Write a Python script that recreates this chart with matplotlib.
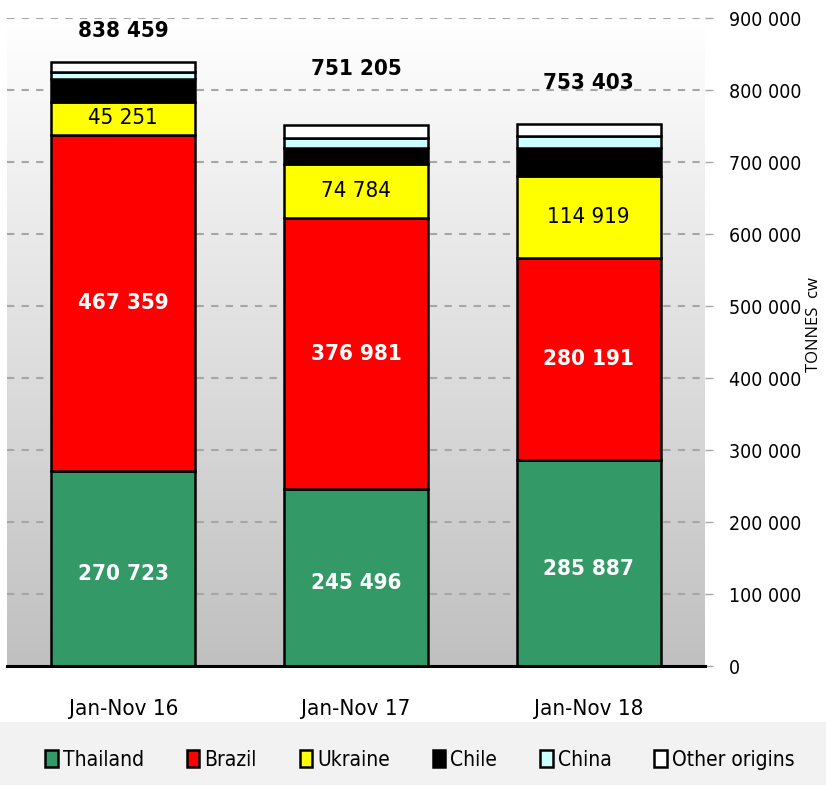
import os
import matplotlib
matplotlib.use("Agg")
import matplotlib.pyplot as plt
import numpy as np
from matplotlib import font_manager as fm
from matplotlib.patches import Rectangle, Patch
from matplotlib.colors import LinearSegmentedColormap

# ---- font selection: prefer a narrow/condensed face (Calibri-like look) ----
files = fm.findSystemFonts() + [f.fname for f in fm.fontManager.ttflist]
def find(keys):
    for k in keys:
        for f in files:
            if os.path.basename(f).lower() == k.lower():
                return f
    return None
reg_file = find(["LiberationSansNarrow-Regular.ttf", "DejaVuSansCondensed.ttf"])
bold_file = find(["LiberationSansNarrow-Bold.ttf", "DejaVuSansCondensed-Bold.ttf"])

def fp(size, bold=False):
    f = bold_file if bold else reg_file
    if f:
        return fm.FontProperties(fname=f, size=size)
    return fm.FontProperties(family="Lato", size=size, weight="bold" if bold else "normal")

categories = ["Jan-Nov 16", "Jan-Nov 17", "Jan-Nov 18"]
series_names = ["Thailand", "Brazil", "Ukraine", "Chile", "China", "Other origins"]
thailand = [270723, 245496, 285887]
brazil = [467359, 376981, 280191]
ukraine = [45251, 74784, 114919]
chile = [32000, 22000, 38500]
china = [10000, 14000, 17000]
other = [13126, 17944, 16906]
totals = [838459, 751205, 753403]
yticks = list(range(0, 900001, 100000))

colors = ["#339966", "#FF0000", "#FFFF00", "#000000", "#CCFFFF", "#FFFFFF"]
data = [thailand, brazil, ukraine, chile, china, other]

fig = plt.figure(figsize=(8.26, 7.85), dpi=100)
fig.patches.append(Rectangle((0, 0), 1, (785 - 722) / 785, transform=fig.transFigure,
                             facecolor="#F2F2F2", edgecolor="none", zorder=0))
ax = fig.add_axes([7 / 826, (785 - 666) / 785, (705 - 7) / 826, (666 - 18) / 785])
ax.set_xlim(-0.5, 2.5)
ax.set_ylim(0, 900000)

grad = np.linspace(0, 1, 256).reshape(-1, 1)
cmap = LinearSegmentedColormap.from_list("g", ["#C0C0C0", "#FFFFFF"])
ax.imshow(grad, extent=[-0.5, 2.5, 0, 900000], origin="lower", aspect="auto",
          cmap=cmap, zorder=0)

for t in yticks[1:]:
    ax.axhline(t, color="#A6A6A6", lw=1.5, ls=(0, (3.5, 3.5)), zorder=1)

x = np.arange(len(categories))
bottom = np.zeros(3)
for vals, c in zip(data, colors):
    ax.bar(x, vals, width=0.62, bottom=bottom, color=c, edgecolor="black",
           linewidth=1.8, zorder=3)
    bottom += np.array(vals)

def fmt(v):
    return f"{v:,}".replace(",", " ")

for i in range(3):
    ax.text(x[i], thailand[i] / 2 - 8000, fmt(thailand[i]), ha="center", va="center",
            color="white", fontproperties=fp(16, True), zorder=5)
    ax.text(x[i], thailand[i] + brazil[i] / 2, fmt(brazil[i]), ha="center", va="center",
            color="white", fontproperties=fp(16, True), zorder=5)
    ax.text(x[i], thailand[i] + brazil[i] + ukraine[i] / 2, fmt(ukraine[i]), ha="center",
            va="center", color="black", fontproperties=fp(16), zorder=5)

total_offsets = [44000, 78000, 57000]
for i in range(3):
    ax.text(x[i], totals[i] + total_offsets[i], fmt(totals[i]), ha="center", va="center",
            color="black", fontproperties=fp(16, True), zorder=5)

ax.yaxis.tick_right()
ax.set_yticks(yticks)
ax.set_yticklabels([fmt(t) for t in yticks])
for lab in ax.get_yticklabels():
    lab.set_fontproperties(fp(14))
ax.tick_params(axis="y", length=6, width=1, color="#A6A6A6", pad=11, right=True)
ax.set_xticks(x)
ax.set_xticklabels(categories)
for lab in ax.get_xticklabels():
    lab.set_fontproperties(fp(16))
ax.tick_params(axis="x", length=0, pad=24)
for s in ["top", "left", "right"]:
    ax.spines[s].set_visible(False)
ax.spines["bottom"].set_linewidth(2.2)
ax.spines["bottom"].set_zorder(4)

fig.text(814 / 826, 1 - 325 / 785, "TONNES  cw", rotation=90, ha="center", va="center",
         fontsize=12, family="Open Sans")

handles = [Patch(facecolor=c, edgecolor="black", linewidth=1.8) for c in colors]
fig.legend(handles, series_names, loc="center", bbox_to_anchor=(420 / 826, 1 - 760 / 785),
           ncol=6, frameon=False, prop=fp(15),
           handlelength=0.6, handleheight=0.9, handletextpad=0.25, columnspacing=2.05)

fig.savefig("out.png", dpi=100)
